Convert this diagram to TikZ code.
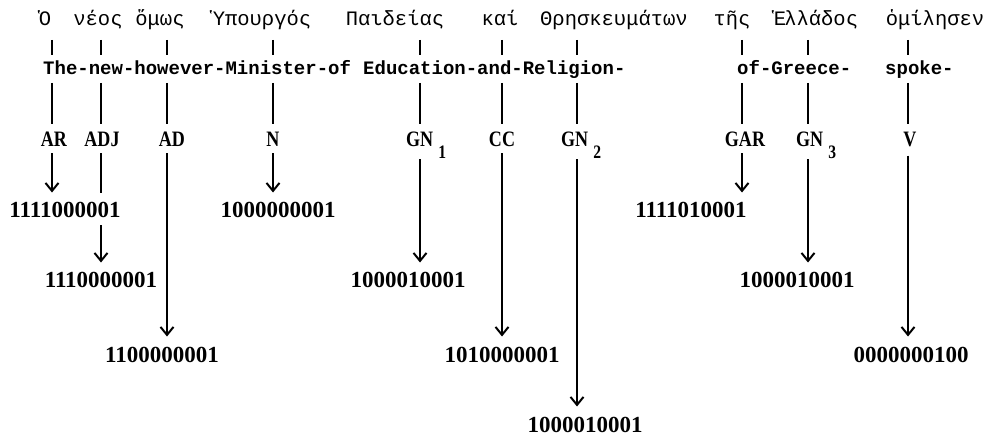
\documentclass[tikz,border=0pt]{standalone}
\usepackage{fontspec}
\usetikzlibrary{arrows.meta}
\newfontfamily\greekfont{Liberation Mono}
\newfontfamily\glossfont{Liberation Mono}
\newfontfamily\catfont{Liberation Serif}[FakeStretch=0.82]
\newfontfamily\codefont{Liberation Serif}
% category label with a lowered index
\newcommand{\catsub}[2]{#1\hspace{5pt}\raisebox{-12pt}{\fontsize{19}{19}\selectfont #2}}
\begin{document}
\begin{tikzpicture}[x=1pt,y=-1pt,
  greek/.style={anchor=base, inner sep=0pt, font=\greekfont\fontsize{20.5}{20.5}\selectfont},
  gloss/.style={anchor=base west, inner sep=0pt, font=\glossfont\bfseries\fontsize{19}{19}\selectfont},
  cat/.style={anchor=base, inner sep=0pt, font=\catfont\bfseries\fontsize{22}{22}\selectfont},
  catw/.style={cat, anchor=base west},
  code/.style={anchor=base, inner sep=0pt, font=\codefont\bfseries\fontsize{23}{23}\selectfont},
  link/.style={line width=2pt},
  arr/.style={link, -{Straight Barb[length=8pt,width=13pt]}, shorten >=10pt},
]
\useasboundingbox (0,0) rectangle (988,438);

% Greek words
\node[greek] (g1)  at (45,26)  {Ὁ};
\node[greek] (g2)  at (98,26)  {νέος};
\node[greek] (g3)  at (160,26) {ὅμως};
\node[greek] (g4)  at (262,26) {Ὑπουργός};
\node[greek] (g5)  at (395,26) {Παιδείας};
\node[greek] (g6)  at (500,26) {καί};
\node[greek] (g7)  at (614,26) {Θρησκευμάτων};
\node[greek] (g8)  at (732,26) {τῆς};
\node[greek] (g9)  at (815,26) {Ἑλλάδος};
\node[greek] (g10) at (935,26) {ὁμίλησεν};

% English gloss
\node[gloss] (e1) at (43,75)  {The-new-however-Minister-of};
\node[gloss] (e2) at (363,75) {Education-and-Religion-};
\node[gloss] (e3) at (737,75) {of-Greece-};
\node[gloss] (e4) at (885,75) {spoke-};

% categories
\node[cat]  (AR)  at (54,147)  {AR};
\node[cat]  (ADJ) at (102,147) {ADJ};
\node[cat]  (AD)  at (172,147) {AD};
\node[cat]  (N)   at (273,147) {N};
\node[catw] (GNa) at (406,147) {\catsub{GN}{1}};
\node[cat]  (CC)  at (502,147) {CC};
\node[catw] (GNb) at (561,147) {\catsub{GN}{2}};
\node[cat]  (GAR) at (745,147) {GAR};
\node[catw] (GNc) at (796,147) {\catsub{GN}{3}};
\node[cat]  (V)   at (910,147) {V};

% codes
\node[code] (n1)  at (65,218)  {1111000001};
\node[code] (n2)  at (101,288) {1110000001};
\node[code] (n3)  at (162,362) {1100000001};
\node[code] (n4)  at (278,218) {1000000001};
\node[code] (n5)  at (408,288) {1000010001};
\node[code] (n6)  at (502,362) {1010000001};
\node[code] (n7)  at (585,432) {1000010001};
\node[code] (n8)  at (691,218) {1111010001};
\node[code] (n9)  at (797,288) {1000010001};
\node[code] (n10) at (911,362) {0000000100};

% column positions and tick rows
\coordinate (c1)  at (52,0);
\coordinate (c2)  at (101,0);
\coordinate (c3)  at (167,0);
\coordinate (c4)  at (273,0);
\coordinate (c5)  at (420,0);
\coordinate (c6)  at (502,0);
\coordinate (c7)  at (577,0);
\coordinate (c8)  at (742,0);
\coordinate (c9)  at (808,0);
\coordinate (c10) at (908,0);
\coordinate (gy) at (0,40);
\coordinate (ey) at (0,55);
\coordinate (ly) at (0,83);
\coordinate (cy) at (0,124);

% word to gloss, gloss to category
\foreach \c in {c1,c2,c3,c4,c5,c6,c7,c8,c9,c10}{
  \draw[link] (\c |- gy) -- (\c |- ey);
  \draw[link] (\c |- ly) -- (\c |- cy);
}

% category to code
\draw[arr, shorten <=6pt] (c1 |- AR.south) -- (c1 |- n1.north);
\draw[link, shorten <=6pt, shorten >=10pt] (c2 |- ADJ.south) -- (c2 |- n1.north);
\draw[arr, shorten <=7pt] (c2 |- n1.south) -- (c2 |- n2.north);
\draw[arr, shorten <=6pt] (c3 |- AD.south) -- (c3 |- n3.north);
\draw[arr, shorten <=6pt] (c4 |- N.south) -- (c4 |- n4.north);
\draw[arr] (c5 |- GNa.south) -- (c5 |- n5.north);
\draw[arr, shorten <=6pt] (c6 |- CC.south) -- (c6 |- n6.north);
\draw[arr] (c7 |- GNb.south) -- (c7 |- n7.north);
\draw[arr, shorten <=6pt] (c8 |- GAR.south) -- (c8 |- n8.north);
\draw[arr] (c9 |- GNc.south) -- (c9 |- n9.north);
\draw[arr, shorten <=8pt] (c10 |- V.south) -- (c10 |- n10.north);
\end{tikzpicture}
\end{document}
